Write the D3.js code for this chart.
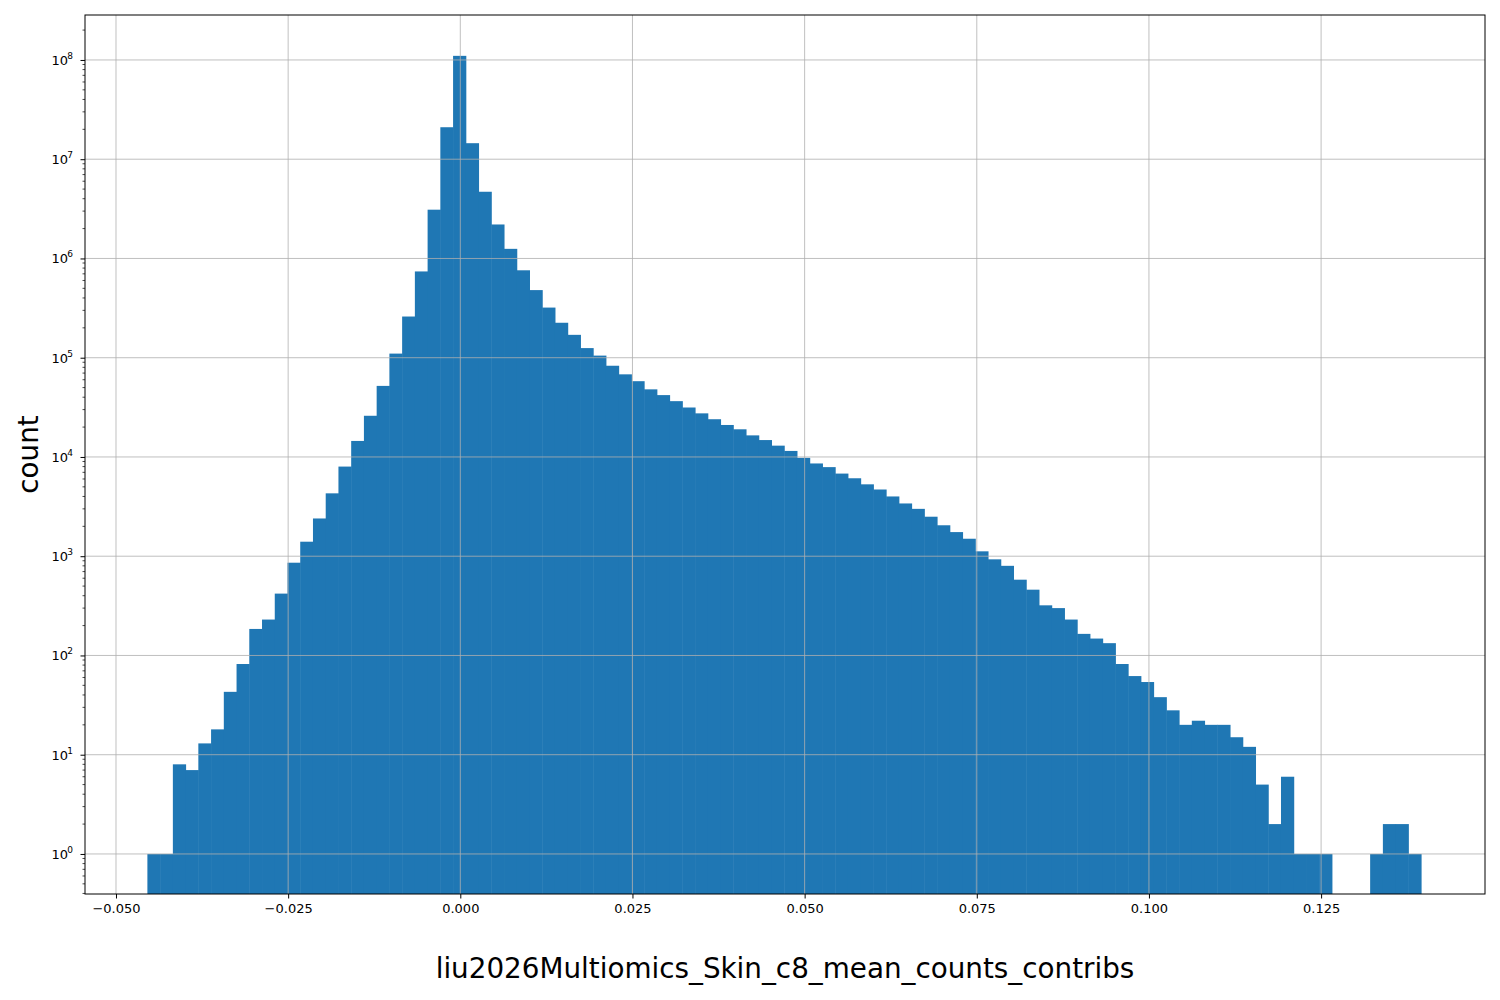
<!DOCTYPE html>
<html><head><meta charset="utf-8">
<script src="https://cdn.jsdelivr.net/npm/d3@7"></script>
<style>body{margin:0;background:#fff}</style></head>
<body><svg id="c" width="1500" height="1000"></svg>
<script>
const binStart = -0.04544, binEnd = 0.13952;
const counts = [1,1,8,7,13,18,43,82,185,230,420,860,1400,2400,4300,8000,14500,26000,52000,110000,
260000,740000,3.1e6,2.1e7,1.1e8,1.45e7,4.7e6,2.2e6,1.25e6,760000,480000,320000,225000,170000,125000,105000,83000,68000,58000,48000,
42000,36500,31500,27500,24000,21000,19000,16500,14800,13000,11500,9800,8600,7900,6800,6100,5300,4700,4000,3400,
3000,2500,2050,1750,1500,1120,930,800,580,460,320,300,230,165,148,133,82,62,54,38,
28,20,22,20,20,15,12,5,2,6,1,1,1,0,0,0,1,2,2,1];
const xTicks = [-0.050,-0.025,0.000,0.025,0.050,0.075,0.100,0.125];
const yTicks = [0,1,2,3,4,5,6,7,8];
const xLabel = "liu2026Multiomics_Skin_c8_mean_counts_contribs";
const yLabel = "count";

const svg = d3.select("#c");
const L=85,R=1485,T=15,B=894;
const x = d3.scaleLinear().domain([-0.0545,0.1488]).range([L,R]);
const y = d3.scaleLog().domain([0.395,Math.pow(10,8.453)]).range([B,T]);
const w = (binEnd-binStart)/counts.length;
const g = svg.append("g");
counts.forEach((c,i)=>{ if(c<=0) return;
  const x0=x(binStart+i*w), x1=x(binStart+(i+1)*w);
  g.append("rect").attr("x",x0).attr("width",x1-x0+0.5).attr("y",y(c)).attr("height",B-y(c)).attr("fill","#1f77b4");
});
const grid = svg.append("g").attr("stroke","#b0b0b0").attr("stroke-width",0.8);
xTicks.forEach(t=>grid.append("line").attr("x1",x(t)).attr("x2",x(t)).attr("y1",T).attr("y2",B));
yTicks.forEach(t=>grid.append("line").attr("x1",L).attr("x2",R).attr("y1",y(10**t)).attr("y2",y(10**t)));
svg.append("rect").attr("x",L).attr("y",T).attr("width",R-L).attr("height",B-T).attr("fill","none").attr("stroke","#000").attr("stroke-width",1);
const xa = svg.append("g").attr("transform",`translate(0,${B})`)
  .call(d3.axisBottom(x).tickValues(xTicks).tickSize(4.5).tickPadding(5).tickFormat(d=>d3.format(".3f")(d).replace("-","\u2212")));
xa.select(".domain").remove();
xa.selectAll("text").attr("font-family","DejaVu Sans").attr("font-size",13).attr("fill","#000");
const ya = svg.append("g").attr("transform",`translate(${L},0)`)
  .call(d3.axisLeft(y).tickValues(yTicks.map(t=>10**t)).tickSize(4.5).tickPadding(5).tickFormat(""));
ya.select(".domain").remove();
yTicks.forEach(t=>{
  const tx = svg.append("text").attr("x",L-17).attr("y",y(10**t)+5).attr("text-anchor","end").attr("font-family","DejaVu Sans").attr("font-size",13);
  tx.append("tspan").text("10");
  tx.append("tspan").attr("x",L-12).attr("dy",-6).attr("font-size",9).attr("text-anchor","end").text(t);
});
for(let e=-1;e<9;e++) for(let k=2;k<10;k++){const v=k*10**e; if(v<0.395||v>10**8.453) continue;
  svg.append("line").attr("x1",L-2.5).attr("x2",L).attr("y1",y(v)).attr("y2",y(v)).attr("stroke","#000").attr("stroke-width",0.7);}
svg.append("text").attr("x",(L+R)/2).attr("y",978).attr("text-anchor","middle").attr("font-family","DejaVu Sans").attr("font-size",27.8).text(xLabel);
svg.append("text").attr("transform",`translate(38,${(T+B)/2}) rotate(-90)`).attr("text-anchor","middle").attr("font-family","DejaVu Sans").attr("font-size",27.8).text(yLabel);
</script></body></html>
